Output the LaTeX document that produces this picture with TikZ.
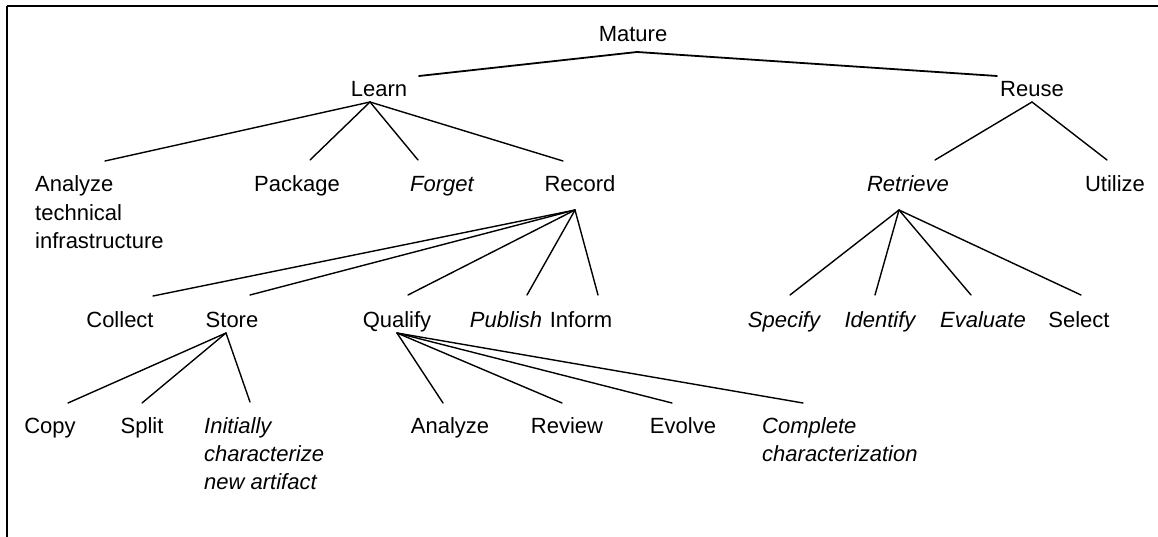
\documentclass[tikz,border=0pt]{standalone}
\usepackage{fontspec}
\setmainfont{Liberation Sans}
\usetikzlibrary{calc}
\newcommand\tlink[4]{\draw[conn] ($(#1)+(#2)$) -- ($(#3)+(#4)$);}
\begin{document}
\begin{tikzpicture}[x=1pt,y=-1pt,
  every node/.style={inner sep=0pt, font=\fontsize{22}{28}\selectfont},
  lbl/.style={anchor=base},
  multi/.style={anchor=base west, align=left},
  conn/.style={line width=1.4pt, line cap=round}]
\useasboundingbox (0,0) rectangle (1158,537);
% frame
\draw[line width=2.5pt] (7,6) -- (1158,6);
\draw[line width=1.5pt] (7,6) -- (7,537);
% level 0-1
\node[lbl] (mature) at (633,42) {Mature};
\node[lbl] (learn) at (379,97) {Learn};
\node[lbl] (reuse) at (1032,97) {Reuse};
% level 2 (multi-line nodes are placed at the baseline of their last line)
\node[multi] (analyzeti) at (35,248) {Analyze\\technical\\infrastructure};
\node[lbl] (package) at (297,192) {Package};
\node[lbl] (forget) at (442,192) {\itshape Forget};
\node[lbl] (record) at (580,192) {Record};
\node[lbl] (retrieve) at (908,192) {\itshape Retrieve};
\node[lbl] (utilize) at (1115,192) {Utilize};
% level 3
\node[lbl] (collect) at (120,327) {Collect};
\node[lbl] (store) at (232,327) {Store};
\node[lbl] (qualify) at (397,327) {Qualify};
\node[lbl] (publish) at (506,327) {\itshape Publish};
\node[lbl] (inform) at (581,327) {Inform};
\node[lbl] (specify) at (784,327) {\itshape Specify};
\node[lbl] (identify) at (880,327) {\itshape Identify};
\node[lbl] (evaluate) at (983,327) {\itshape Evaluate};
\node[lbl] (select) at (1079,327) {Select};
% level 4
\node[lbl] (copy) at (50,433) {Copy};
\node[lbl] (split) at (142,433) {Split};
\node[multi] (initially) at (204,489) {\itshape Initially\\\itshape characterize\\\itshape new artifact};
\node[lbl] (analyze) at (450,433) {Analyze};
\node[lbl] (review) at (567,433) {Review};
\node[lbl] (evolve) at (683,433) {Evolve};
\node[multi] (complete) at (762,461) {\itshape Complete\\\itshape characterization};
% connectors
\draw[conn, line width=1.8pt] ($(mature.base)+(4,10)$) -- ($(learn.base)+(40,-21)$);
\draw[conn, line width=1.8pt] ($(mature.base)+(4,10)$) -- ($(reuse.base)+(-35,-21)$);
\tlink{learn.base}{-9,5}{analyzeti.base west}{70,-87}
\tlink{learn.base}{-9,5}{package.base}{13,-32}
\tlink{learn.base}{-9,5}{forget.base}{-24,-32}
\tlink{learn.base}{-9,5}{record.base}{-17,-31}
\tlink{reuse.base}{0,5}{retrieve.base}{27,-32}
\tlink{reuse.base}{0,5}{utilize.base}{-8,-32}
\tlink{record.base}{-5,18}{collect.base}{33,-31}
\tlink{record.base}{-5,18}{store.base}{18,-32}
\tlink{record.base}{-5,18}{qualify.base}{11,-32}
\tlink{record.base}{-5,18}{publish.base}{21,-32}
\tlink{record.base}{-5,18}{inform.base}{17,-32}
\tlink{retrieve.base}{-9,18}{specify.base}{6,-32}
\tlink{retrieve.base}{-9,18}{identify.base}{-5,-32}
\tlink{retrieve.base}{-9,18}{evaluate.base}{-12,-32}
\tlink{retrieve.base}{-9,18}{select.base}{2,-32}
\tlink{store.base}{-6,6}{copy.base}{18,-30}
\tlink{store.base}{-6,6}{split.base}{0,-30}
\tlink{store.base}{-6,6}{initially.base west}{46,-87}
\tlink{qualify.base}{0,6}{analyze.base}{-7,-30}
\tlink{qualify.base}{0,6}{review.base}{-5,-30}
\tlink{qualify.base}{0,6}{evolve.base}{-11,-30}
\tlink{qualify.base}{0,6}{complete.base west}{41,-58}
\end{tikzpicture}
\end{document}
